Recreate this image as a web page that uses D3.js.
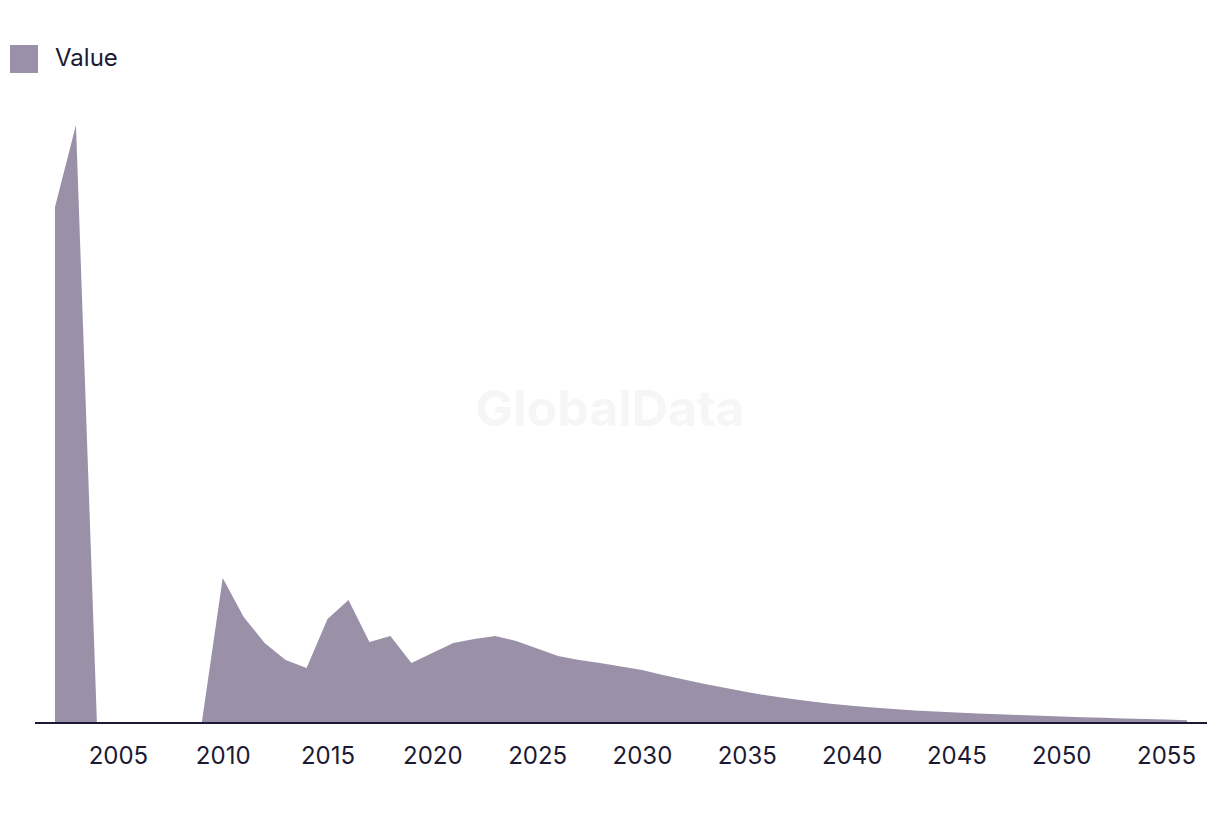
<!DOCTYPE html>
<html>
<head>
<meta charset="utf-8">
<script src="https://cdn.jsdelivr.net/npm/d3@7"></script>
<style>
  html, body { margin: 0; padding: 0; background: #ffffff; }
  svg { display: block; }
  text { font-family: Inter, "Noto Sans", sans-serif; }
</style>
</head>
<body>
<svg id="chart" width="1220" height="814"></svg>
<script>
const years = d3.range(2002, 2057);
const values = [
  5.16, 5.98, 0, 0, 0, 0, 0, 0, 1.45, 1.06,
  0.80, 0.63, 0.55, 1.04, 1.23, 0.81, 0.87, 0.60, 0.70, 0.80,
  0.84, 0.87, 0.82, 0.745, 0.67, 0.63, 0.60, 0.565, 0.53, 0.48,
  0.435, 0.39, 0.35, 0.31, 0.275, 0.245, 0.217, 0.193, 0.172, 0.154,
  0.139, 0.126, 0.115, 0.105, 0.096, 0.088, 0.08, 0.072, 0.065, 0.058,
  0.052, 0.046, 0.04, 0.035, 0.028
];
const tickYears = [2005, 2010, 2015, 2020, 2025, 2030, 2035, 2040, 2045, 2050, 2055];
const seriesName = "Value";

const fillColor = "#9a91a9";
const inkColor = "#1c1a33";

const data = years.map((y, i) => ({ year: y, value: values[i] }));

const svg = d3.select("#chart");

const x = d3.scaleLinear().domain([2002, 2056]).range([55, 1187]);
const y = d3.scaleLinear().domain([0, 6]).range([723, 123]);

// watermark
svg.append("text")
  .attr("x", 610).attr("y", 426)
  .attr("text-anchor", "middle")
  .attr("font-size", 50).attr("font-weight", 700)
  .attr("fill", "#f6f6f6")
  .text("GlobalData");

const area = d3.area()
  .x(d => x(d.year))
  .y0(y(0))
  .y1(d => y(d.value));

svg.append("path")
  .datum(data)
  .attr("d", area)
  .attr("fill", fillColor);

// x axis
const axis = d3.axisBottom(x)
  .tickValues(tickYears)
  .tickFormat(d3.format("d"))
  .tickSize(0)
  .tickPadding(24);

const gx = svg.append("g")
  .attr("transform", `translate(0,${y(0)})`)
  .call(axis);
gx.select(".domain").remove();
gx.append("line")
  .attr("x1", 35).attr("x2", 1207)
  .attr("y1", 0).attr("y2", 0)
  .attr("stroke", inkColor).attr("stroke-width", 2);
gx.selectAll(".tick text")
  .attr("font-family", "Inter, 'Noto Sans', sans-serif")
  .attr("font-size", 24)
  .attr("fill", inkColor);

// legend
const lg = svg.append("g");
lg.append("rect")
  .attr("x", 10).attr("y", 45).attr("width", 28).attr("height", 28)
  .attr("fill", fillColor);
lg.append("text")
  .attr("x", 55).attr("y", 66)
  .attr("font-size", 24)
  .attr("fill", inkColor)
  .text(seriesName);
</script>
</body>
</html>
